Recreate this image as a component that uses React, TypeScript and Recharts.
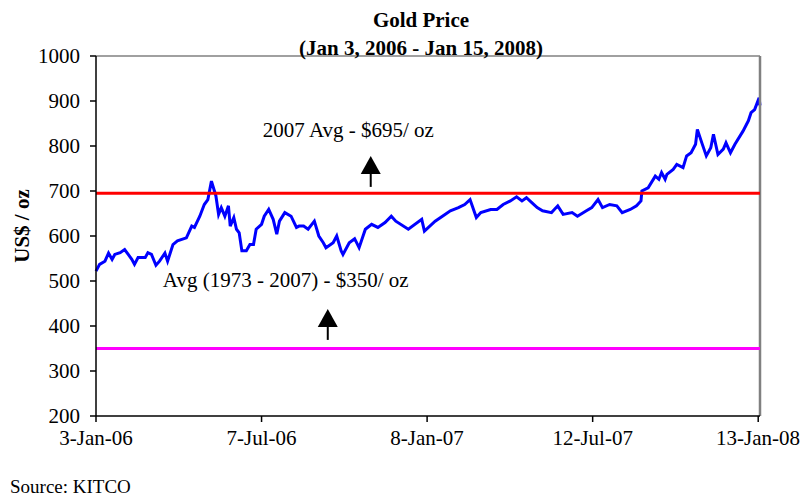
import React from 'react';
import { LineChart, Line, XAxis, YAxis, ReferenceLine, ReferenceDot } from 'recharts';

const dates = [
  "2006-01-03","2006-01-07","2006-01-13","2006-01-17","2006-01-21","2006-01-24","2006-01-30",
  "2006-02-04","2006-02-08","2006-02-12","2006-02-15","2006-02-19","2006-02-27",
  "2006-03-02","2006-03-06","2006-03-11","2006-03-15","2006-03-21","2006-03-24","2006-03-30",
  "2006-04-04","2006-04-14","2006-04-20","2006-04-23","2006-04-29",
  "2006-05-04","2006-05-08","2006-05-12","2006-05-17","2006-05-20","2006-05-23","2006-05-27","2006-05-31",
  "2006-06-02","2006-06-06","2006-06-09","2006-06-12","2006-06-15","2006-06-20","2006-06-24","2006-06-28",
  "2006-07-01","2006-07-07","2006-07-10","2006-07-15","2006-07-20","2006-07-24","2006-07-27",
  "2006-08-02","2006-08-09","2006-08-15","2006-08-18","2006-08-23","2006-08-28",
  "2006-09-04","2006-09-09","2006-09-14","2006-09-17","2006-09-25","2006-09-29",
  "2006-10-04","2006-10-06","2006-10-13","2006-10-19","2006-10-24","2006-10-31",
  "2006-11-07","2006-11-14","2006-11-22","2006-11-29",
  "2006-12-04","2006-12-18",
  "2007-01-02","2007-01-05","2007-01-17","2007-01-28",
  "2007-02-03","2007-02-12","2007-02-19","2007-02-25",
  "2007-03-04","2007-03-09","2007-03-20","2007-03-27",
  "2007-04-03","2007-04-11","2007-04-18","2007-04-24","2007-04-29",
  "2007-05-05","2007-05-11","2007-05-17","2007-05-27",
  "2007-06-03","2007-06-09","2007-06-19","2007-06-25",
  "2007-07-05","2007-07-11","2007-07-18","2007-07-23","2007-07-31",
  "2007-08-08","2007-08-14","2007-08-23","2007-08-30",
  "2007-09-04","2007-09-05","2007-09-12","2007-09-20","2007-09-24","2007-09-27",
  "2007-10-01","2007-10-03","2007-10-10","2007-10-14","2007-10-21","2007-10-25","2007-10-30",
  "2007-11-04","2007-11-06","2007-11-11","2007-11-16","2007-11-21","2007-11-24","2007-11-29",
  "2007-12-05","2007-12-08","2007-12-13","2007-12-18","2007-12-27",
  "2008-01-02","2008-01-05","2008-01-09","2008-01-14","2008-01-15"
];

const prices = [
  522,537,544,562,548,559,563,
  570,559,548,537,552,552,
  563,559,535,544,562,544,581,
  589,596,622,619,644,
  670,681,722,689,648,663,644,667,
  622,641,615,607,567,567,581,581,
  615,626,644,659,637,604,633,
  652,644,619,622,622,615,
  633,600,585,574,585,600,
  567,559,585,594,574,615,
  626,619,630,644,
  633,615,
  637,611,633,648,
  656,663,670,681,
  641,652,659,659,
  670,678,687,678,685,
  674,663,656,652,
  667,648,652,644,
  656,663,681,663,670,
  667,652,659,667,
  678,700,707,733,726,741,
  726,737,748,759,752,778,785,
  804,837,807,778,796,826,781,
  793,807,785,804,833,
  856,874,881,907,890
];

const yTicks = [200, 300, 400, 500, 600, 700, 800, 900, 1000];
const xTickDates = ["2006-01-03", "2006-07-07", "2007-01-08", "2007-07-12", "2008-01-13"];
const domainStart = "2006-01-03";
const domainEnd = "2008-01-15";

const avg2007 = 695;
const avgLongRun = 350;

const noteTexts = ["2007 Avg - $695/ oz", "Avg (1973 - 2007) - $350/ oz"];
const noteTextDates = ["2006-10-12", "2006-08-03"];
const noteTextValues = [821, 487];
const arrowDates = ["2006-11-06", "2006-09-19"];
const arrowTipValues = [778, 438];

const MONTHS = ["Jan","Feb","Mar","Apr","May","Jun","Jul","Aug","Sep","Oct","Nov","Dec"];
const toT = (s: string) => Date.parse(s + "T00:00:00Z");
const fmt = (t: number) => {
  const d = new Date(t);
  return `${d.getUTCDate()}-${MONTHS[d.getUTCMonth()]}-${String(d.getUTCFullYear()).slice(2)}`;
};

const data = dates.map((d, i) => ({ t: toT(d), price: prices[i] }));
const FONT = '"Liberation Serif", "Times New Roman", serif';

const Arrow = (p: any) => {
  const { cx, cy } = p;
  return (
    <g>
      <polygon points={`${cx},${cy} ${cx - 10},${cy + 18} ${cx + 10},${cy + 18}`} fill="#000" />
      <line x1={cx} y1={cy + 17} x2={cx} y2={cy + 31} stroke="#000" strokeWidth={2} />
    </g>
  );
};

const makeText = (label: string) => (p: any) => (
  <text x={p.cx} y={p.cy} textAnchor="middle" fontFamily={FONT} fontSize={21} fill="#000">
    {label}
  </text>
);

export default function App() {
  return (
    <div style={{ position: 'absolute', left: 0, top: 0, width: 800, height: 498, background: '#fff' }}>
      <LineChart
        width={800}
        height={498}
        data={data}
        margin={{ top: 56, right: 40, bottom: 42, left: 0 }}
      >
        <XAxis
          dataKey="t"
          type="number"
          domain={[toT(domainStart), toT(domainEnd)]}
          ticks={xTickDates.map(toT)}
          tickFormatter={fmt}
          height={40}
          tickSize={6}
          tickMargin={8}
          axisLine={{ stroke: '#000', strokeWidth: 1.5 }}
          tickLine={{ stroke: '#000', strokeWidth: 1.5 }}
          tick={{ fontSize: 21, fontFamily: FONT, fill: '#000' }}
        />
        <YAxis
          domain={[200, 1000]}
          ticks={yTicks}
          width={96}
          tickSize={6}
          tickMargin={10}
          axisLine={{ stroke: '#000', strokeWidth: 1.5 }}
          tickLine={{ stroke: '#000', strokeWidth: 1.5 }}
          tick={{ fontSize: 21, fontFamily: FONT, fill: '#000' }}
        />
        <Line
          type="linear"
          dataKey="price"
          stroke="#0000ff"
          strokeWidth={3}
          dot={false}
          isAnimationActive={false}
        />
        <ReferenceLine y={1000} stroke="#808080" strokeWidth={1.5} />
        <ReferenceLine x={toT(domainEnd)} stroke="#808080" strokeWidth={2.5} />
        <ReferenceLine y={avg2007} stroke="#ff0000" strokeWidth={3} />
        <ReferenceLine y={avgLongRun} stroke="#ff00ff" strokeWidth={3} />
        {noteTexts.map((txt, i) => (
          <ReferenceDot
            key={'t' + i}
            x={toT(noteTextDates[i])}
            y={noteTextValues[i]}
            r={1}
            shape={makeText(txt)}
          />
        ))}
        {arrowDates.map((d, i) => (
          <ReferenceDot key={'a' + i} x={toT(d)} y={arrowTipValues[i]} r={1} shape={Arrow} />
        ))}
      </LineChart>
      <div
        style={{
          position: 'absolute', left: 421, top: 6, transform: 'translateX(-50%)',
          fontFamily: FONT, fontWeight: 'bold', fontSize: 21, lineHeight: '28px',
          textAlign: 'center', whiteSpace: 'nowrap', color: '#000'
        }}
      >
        <div>Gold Price</div>
        <div>(Jan 3, 2006 - Jan 15, 2008)</div>
      </div>
      <div
        style={{
          position: 'absolute', left: 22, top: 226, transform: 'translate(-50%, -50%) rotate(-90deg)',
          fontFamily: FONT, fontWeight: 'bold', fontSize: 21, whiteSpace: 'nowrap', color: '#000', lineHeight: '24px'
        }}
      >
        US$ / oz
      </div>
      <div
        style={{
          position: 'absolute', left: 10, top: 477, fontFamily: FONT, fontSize: 19,
          lineHeight: '19px', whiteSpace: 'nowrap', color: '#000'
        }}
      >
        Source: KITCO
      </div>
    </div>
  );
}
